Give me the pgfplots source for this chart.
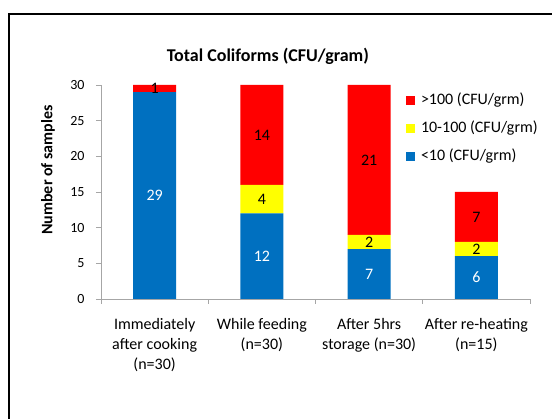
\documentclass[border=0pt]{standalone}
\usepackage{fontspec}
\setmainfont{Carlito}
\usepackage{pgfplots}
\usepackage{pgfplotstable}
\pgfplotsset{compat=1.18}
\definecolor{cblue}{HTML}{0070C0}
\definecolor{cyel}{HTML}{FFFF00}
\definecolor{cred}{HTML}{FF0000}
\definecolor{axgray}{HTML}{A6A6A6}
\pgfplotstableread{
x b y r
0 29 0 1
1 12 4 14
2 7 2 21
3 6 2 7
}\data
\pgfplotsset{
  seg/.style n args={3}{
    draw=none, fill=#1, forget plot,
    point meta=explicit,
    nodes near coords={\pgfmathfloatifflags{\pgfplotspointmeta}{0}{}{\pgfmathprintnumber{\pgfplotspointmeta}}},
    every node near coord/.append style={anchor=center, text=#3, font=\fontsize{16}{19}\selectfont},
  }
}
\begin{document}
\begin{tikzpicture}
\useasboundingbox (0,0) rectangle (552pt,419pt);
\draw[line width=2pt] (9pt,0pt) -- (9pt,404.5pt) -- (552pt,404.5pt);
\begin{axis}[
  at={(101pt,120pt)}, anchor=south west,
  scale only axis, width=429pt, height=214pt,
  /pgf/number format/assume math mode=true,
  ybar stacked, bar width=43pt,
  xmin=-0.5, xmax=3.5, ymin=0, ymax=30,
  ytick={0,5,...,30},
  xtick={-0.5,0.5,1.5,2.5,3.5}, xticklabels={},
  extra x ticks={0,1,2,3},
  extra x tick labels={{Immediately\\after cooking\\(n=30)},{While feeding\\(n=30)},{After 5hrs\\storage (n=30)},{After re-heating\\(n=15)}},
  extra x tick style={major tick length=0pt},
  xticklabel style={align=center, font=\fontsize{16}{20}\selectfont, yshift=-16pt},
  yticklabel style={font=\fontsize{14}{17}\selectfont, xshift=-8pt},
  axis x line*=bottom, axis y line*=left,
  axis line style={axgray, line width=0.8pt},
  tick style={axgray, line width=0.8pt},
  tick align=outside, major tick length=5pt,
  title={Total Coliforms (CFU/gram)},
  title style={font=\bfseries\fontsize{18}{22}\selectfont, at={(axis description cs:0.389,1.0794)}, anchor=base},
  ylabel={Number of samples},
  ylabel style={font=\bfseries\fontsize{16}{19}\selectfont, at={(axis description cs:-0.1235,0.603)}, anchor=center},
  legend image code/.code={\fill[#1] (0pt,-4.5pt) rectangle (9pt,4.5pt);},
  legend cell align=left,
  legend style={at={(axis description cs:0.711,0.962)}, anchor=north west, draw=none, fill=none, inner sep=0pt, outer sep=0pt,
    row sep=13pt, column sep=6pt,
    nodes={inner sep=0pt, text height=11pt, text depth=4pt, font=\fontsize{16}{19}\selectfont}},
  clip=false,
]
\addplot[seg={cblue}{b}{white}] table[x=x,y=b,meta=b]{\data};
\addplot[seg={cyel}{y}{black}] table[x=x,y=y,meta=y]{\data};
\addplot[seg={cred}{r}{black}] table[x=x,y=r,meta=r]{\data};
\addlegendimage{fill=cred, draw=none}
\addlegendentry{>100 (CFU/grm)}
\addlegendimage{fill=cyel, draw=none}
\addlegendentry{10-100 (CFU/grm)}
\addlegendimage{fill=cblue, draw=none}
\addlegendentry{<10 (CFU/grm)}
\end{axis}
\end{tikzpicture}
\end{document}
